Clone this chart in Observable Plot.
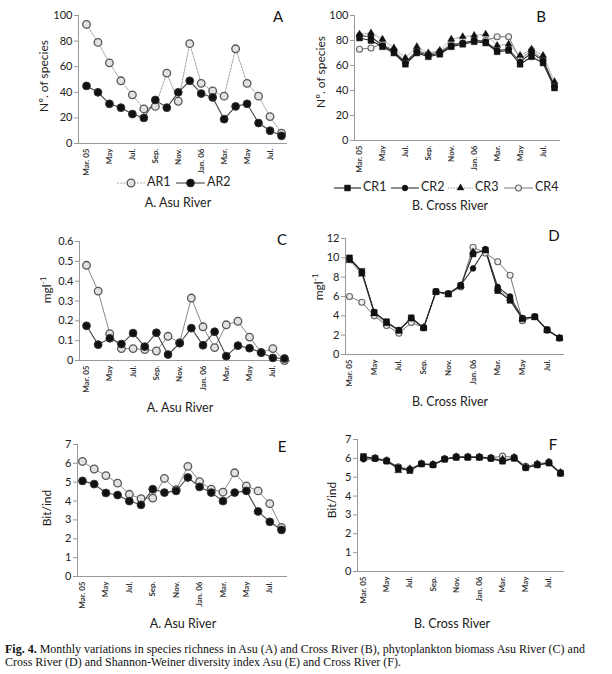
<!DOCTYPE html>
<html><head><meta charset="utf-8">
<script src="https://cdn.jsdelivr.net/npm/d3@7"></script>
<script src="https://cdn.jsdelivr.net/npm/@observablehq/plot@0.6"></script>
<style>
body{margin:0;background:#fff}
#root{position:relative;width:612px;height:674px;overflow:hidden;font-family:Lato,"Open Sans",sans-serif}
.panel{position:absolute}
#overlay{position:absolute;left:0;top:0}
div.cap{position:absolute;left:5px;font-family:"Liberation Serif","DejaVu Serif","Times New Roman",serif;font-size:12px;line-height:12px;color:#111;white-space:nowrap}
</style></head><body><div id="root"></div>
<script>
// ---------- data ----------
const months = ["Mar. 05","Apr.","May","Jun.","Jul.","Aug.","Sep.","Oct.","Nov.","Dec.","Jan. 06","Feb.","Mar.","Apr.","May","Jun.","Jul.","Aug."];
const tickIdx = [0,2,4,6,8,10,12,14,16];

// A: species richness, Asu River
const speciesAR1 = [93,79,63,49,38,27,29,55,33,78,47,41,37,74,47,37,21,8];
const speciesAR2 = [45,40,31,28,23,20,34,28,40,49,39,36,19,29,31,16,10,6];
// B: species richness, Cross River
const speciesCR1 = [82,80,75,70,61,70,67,69,75,77,79,78,71,72,61,67,62,42];
const speciesCR2 = [84,83,76,71,62,71,68,70,76,78,80,79,72,73,63,70,64,43];
const speciesCR3 = [85,86,81,74,66,75,70,72,81,83,84,85,76,77,68,73,68,47];
const speciesCR4 = [73,74,77,72,63,72,69,71,77,78,80,80,83,83,65,72,65,44];
// C: biomass, Asu River (mg/l)
const biomassAR1 = [0.48,0.35,0.135,0.06,0.06,0.055,0.048,0.122,0.09,0.315,0.17,0.065,0.18,0.198,0.118,0.04,0.06,0.0];
const biomassAR2 = [0.175,0.08,0.112,0.083,0.138,0.07,0.14,0.03,0.087,0.163,0.077,0.145,0.022,0.075,0.062,0.04,0.013,0.01];
// D: biomass, Cross River (mg/l)
const biomassCR1 = [10.0,8.6,4.35,3.4,2.5,3.8,2.75,6.5,6.25,7.1,10.4,10.8,6.6,5.6,3.7,3.9,2.55,1.7];
const biomassCR2 = [9.9,8.5,4.4,3.35,2.5,3.75,2.75,6.5,6.3,7.2,8.9,10.9,7.0,6.0,3.75,3.9,2.6,1.7];
const biomassCR3 = [9.7,8.3,4.2,3.2,2.45,3.7,2.8,6.45,6.2,7.1,10.6,10.8,6.8,5.8,3.7,3.85,2.5,1.7];
const biomassCR4 = [6.0,5.4,4.0,3.0,2.2,3.3,2.8,6.5,6.3,7.0,11.1,10.5,9.6,8.2,3.5,3.9,2.5,1.7];
// E: Shannon-Weiner, Asu River
const diversityAR1 = [6.1,5.7,5.35,4.95,4.36,4.13,4.16,5.2,4.6,5.84,5.03,4.63,4.47,5.5,4.8,4.54,3.86,2.6];
const diversityAR2 = [5.07,4.9,4.43,4.32,4.0,3.8,4.63,4.45,4.54,5.25,4.75,4.45,4.0,4.45,4.54,3.45,2.9,2.47];
// F: Shannon-Weiner, Cross River
const diversityCR1 = [6.1,6.0,5.85,5.5,5.35,5.7,5.65,5.95,6.05,6.05,6.05,6.0,5.85,6.0,5.5,5.65,5.75,5.2];
const diversityCR2 = [5.95,5.98,5.85,5.5,5.4,5.7,5.65,5.95,6.05,6.05,6.05,5.98,5.85,6.0,5.5,5.65,5.75,5.2];
const diversityCR3 = [6.0,6.0,5.88,5.35,5.45,5.72,5.68,5.97,6.08,6.07,6.07,6.02,5.95,6.05,5.55,5.7,5.8,5.25];
const diversityCR4 = [6.05,6.02,5.9,5.55,5.42,5.73,5.68,5.98,6.1,6.1,6.08,6.03,6.12,6.05,5.58,5.7,5.8,5.25];

const ticksSpecies = [0,20,40,60,80,100];
const ticksBiomassA = [0,0.1,0.2,0.3,0.4,0.5,0.6];
const ticksBiomassB = [0,2,4,6,8,10,12];
const ticksDiversity = [0,1,2,3,4,5,6,7];

// ---------- styles ----------
const ST = {
  AR1:{line:"#999", lw:0.9, dash:"2,1.3", symbol:"circle", r:3.8, fill:"#e2e2e2", ds:"#555", dw:1.3},
  AR1s:{line:"#8a8a8a", lw:1, dash:null, symbol:"circle", r:3.8, fill:"#e2e2e2", ds:"#555", dw:1.3},
  AR2:{line:"#444", lw:1.1, dash:null, symbol:"circle", r:3.9, fill:"#111", ds:"#333", dw:1},
  CR1:{line:"#222", lw:1.1, dash:null, symbol:"square", r:3.3, fill:"#111", ds:"#111", dw:0.5},
  CR2:{line:"#333", lw:1.1, dash:null, symbol:"circle", r:2.9, fill:"#111", ds:"#111", dw:0.5},
  CR3:{line:"#888", lw:0.8, dash:"1.5,1.2", symbol:"triangle", r:2.7, fill:"#111", ds:"#111", dw:0.3},
  CR4:{line:"#777", lw:1, dash:null, symbol:"circle", r:3.0, fill:"#eee", ds:"#666", dw:1.1}
};

const root = document.getElementById("root");

function panel(cfg) {
  const sp = (cfg.last - cfg.first) / 17;
  const d0 = -(cfg.first - cfg.axisL) / sp;
  const d1 = 17 + (cfg.axisR - cfg.last) / sp;
  const lines = [], dots = [];
  cfg.series.forEach(([vals, st]) => {
    const data = vals.map((v, i) => ({i, v}));
    lines.push(Plot.line(data, {x:"i", y:"v", stroke:st.line, strokeWidth:st.lw, strokeDasharray:st.dash}));
    dots.push(Plot.dot(data, {x:"i", y:"v", r:st.r, symbol:st.symbol, fill:st.fill, stroke:st.ds, strokeWidth:st.dw}));
  });
  const fmt = d => String(+d.toFixed(2));
  const svg = Plot.plot({
    width: 306, height: cfg.height,
    marginLeft: cfg.axisL, marginRight: 306 - cfg.axisR,
    marginTop: cfg.yTop - cfg.top, marginBottom: cfg.top + cfg.height - cfg.y0,
    style: {fontFamily: "Lato, 'Open Sans', sans-serif", background: "transparent", overflow: "visible"},
    x: {type: "linear", domain: [d0, d1]},
    y: {domain: [0, cfg.ticks[cfg.ticks.length - 1]]},
    marks: [
      Plot.ruleY([0], {stroke:"#999", strokeWidth:1}),
      Plot.ruleX([d0], {stroke:"#999", strokeWidth:1}),
      Plot.axisY({ticks: cfg.ticks, tickSize: 4, tickPadding: 2, fontSize: 11, tickFormat: fmt, stroke:"#999", fill:"#222", label:null}),
      Plot.axisX({ticks: tickIdx, tickFormat: i => months[i], tickRotate: -90, tickSize: 0, tickPadding: 5, fontSize: 8, fontWeight: "bold", fill:"#333", label:null}),
      ...lines, ...dots
    ]
  });
  svg.classList.add("panel");
  svg.style.left = cfg.left + "px";
  svg.style.top = cfg.top + "px";
  root.appendChild(svg);
}

panel({left:0, top:0, height:185, axisL:78, axisR:287, first:86, last:281, yTop:15, y0:143, ticks:ticksSpecies,
  series:[[speciesAR1, ST.AR1],[speciesAR2, ST.AR2]]});
panel({left:306, top:0, height:185, axisL:48, axisR:254, first:53, last:248, yTop:15, y0:140, ticks:ticksSpecies,
  series:[[speciesCR4, ST.CR4],[speciesCR3, ST.CR3],[speciesCR2, ST.CR2],[speciesCR1, ST.CR1]]});
panel({left:0, top:225, height:170, axisL:79, axisR:290, first:86, last:284, yTop:241, y0:360, ticks:ticksBiomassA,
  series:[[biomassAR1, ST.AR1s],[biomassAR2, ST.AR2]]});
panel({left:306, top:225, height:170, axisL:39, axisR:258, first:43, last:253, yTop:238, y0:354, ticks:ticksBiomassB,
  series:[[biomassCR4, ST.CR4],[biomassCR3, ST.CR3],[biomassCR2, ST.CR2],[biomassCR1, ST.CR1]]});
panel({left:0, top:435, height:180, axisL:77, axisR:287, first:82, last:281, yTop:444, y0:576, ticks:ticksDiversity,
  series:[[diversityAR1, ST.AR1s],[diversityAR2, ST.AR2]]});
panel({left:306, top:435, height:180, axisL:51, axisR:258, first:57, last:254, yTop:439, y0:571, ticks:ticksDiversity,
  series:[[diversityCR4, ST.CR4],[diversityCR3, ST.CR3],[diversityCR2, ST.CR2],[diversityCR1, ST.CR1]]});

// ---------- overlay text & legends ----------
const ov = d3.select(root).append("svg").attr("id","overlay").attr("width",612).attr("height",674)
  .style("font-family","Lato, 'Open Sans', sans-serif");

const letters = [["A",278,22],["B",541,22],["C",282,245],["D",554,241],["E",282,452],["F",553,450]];
letters.forEach(([t,x,y]) => ov.append("text").attr("x",x).attr("y",y).attr("font-size",15).attr("fill","#111").attr("text-anchor","middle").text(t));

function ytitle(x, y, parts) {
  const t = ov.append("text").attr("transform",`translate(${x},${y}) rotate(-90)`).attr("text-anchor","middle")
    .attr("font-size",12).attr("fill","#222").attr("dominant-baseline","middle");
  parts.forEach(([s, sup]) => {
    const ts = t.append("tspan").text(s);
    if (sup) ts.attr("font-size",8).attr("dy",-4);
  });
}
ytitle(45, 76, [["Nº. of species"]]);
ytitle(322, 72, [["Nº. of species"]]);
ytitle(48, 290, [["mgl"],["-1",true]]);
ytitle(320, 287, [["mgl"],["-1",true]]);
ytitle(48, 508, [["Bit/ind"]]);
ytitle(333, 500, [["Bit/ind"]]);

const titles = [["A. Asu River",178,207],["B. Cross River",450,210],["A. Asu River",180,412],["B. Cross River",450,406],["A. Asu River",183,628],["B. Cross River",452,628]];
titles.forEach(([t,x,y]) => ov.append("text").attr("x",x).attr("y",y).attr("font-size",12.5).attr("fill","#222").attr("text-anchor","middle").text(t));

function legendItem(x1, x2, y, st, label) {
  ov.append("line").attr("x1",x1).attr("x2",x2).attr("y1",y).attr("y2",y).attr("stroke",st.line).attr("stroke-width",st.lw)
    .attr("stroke-dasharray",st.dash);
  const cx = (x1 + x2) / 2;
  const sym = {circle: d3.symbolCircle, square: d3.symbolSquare, triangle: d3.symbolTriangle}[st.symbol];
  ov.append("path").attr("d", d3.symbol(sym, Math.PI * st.r * st.r)()).attr("transform",`translate(${cx},${y})`)
    .attr("fill",st.fill).attr("stroke",st.ds).attr("stroke-width",st.dw);
  ov.append("text").attr("x",x2+2).attr("y",y).attr("dominant-baseline","middle").attr("font-size",12.5).attr("fill","#222").text(label);
}
legendItem(117,145,183,ST.AR1,"AR1");
legendItem(176,205,183,ST.AR2,"AR2");
legendItem(334,361,188,ST.CR1,"CR1");
legendItem(391,419,188,ST.CR2,"CR2");
legendItem(448,473,188,ST.CR3,"CR3");
legendItem(504,533,188,ST.CR4,"CR4");

// caption
const c1 = document.createElement("div");
c1.className = "cap"; c1.style.top = "643px";
c1.innerHTML = "<b>Fig. 4.</b> Monthly variations in species richness in Asu (A) and Cross River (B), phytoplankton biomass Asu River (C) and";
root.appendChild(c1);
const c2 = document.createElement("div");
c2.className = "cap"; c2.style.top = "656px";
c2.textContent = "Cross River (D) and Shannon-Weiner diversity index Asu (E) and Cross River (F).";
root.appendChild(c2);
</script></body></html>
